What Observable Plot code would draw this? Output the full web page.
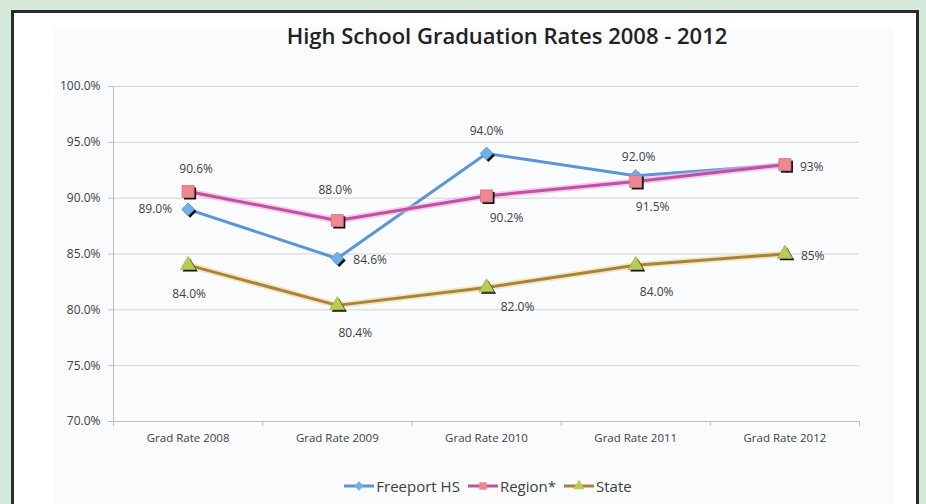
<!DOCTYPE html>
<html><head><meta charset="utf-8">
<script src="https://cdn.jsdelivr.net/npm/d3@7"></script>
<script src="https://cdn.jsdelivr.net/npm/@observablehq/plot@0.6"></script>
<style>
html,body{margin:0;padding:0;}
body{width:926px;height:504px;overflow:hidden;background:#d5eadb;position:relative;font-family:"Open Sans",sans-serif;}
#frame{position:absolute;left:11px;top:10px;width:902px;height:540px;border:3px solid #2b2b2b;background:#fff;}
#inner{position:absolute;left:40px;top:14px;width:840px;height:500px;background:#fafbfd;}
#title{position:absolute;left:0;top:21px;width:1014px;text-align:center;font-size:22px;font-weight:600;line-height:28px;color:#222;}
#chart{position:absolute;left:0;top:60px;}
#legend{position:absolute;left:0;top:475px;width:976px;text-align:center;font-size:15px;color:#404040;line-height:22px;}
#legend span.item{display:inline-flex;align-items:center;margin:0 4px;}
#legend svg{margin-right:2px;}
</style>
</head><body>
<div id="frame"><div id="inner"></div></div>
<div id="title">High School Graduation Rates 2008 - 2012</div>
<div id="chart"></div>
<div id="legend"></div>
<script>
const categories = ["Grad Rate 2008","Grad Rate 2009","Grad Rate 2010","Grad Rate 2011","Grad Rate 2012"];
const seriesNames = ["Freeport HS","Region*","State"];
const freeport = [89.0, 84.6, 94.0, 92.0, 93.0];
const region = [90.6, 88.0, 90.2, 91.5, 93.0];
const state = [84.0, 80.4, 82.0, 84.0, 85.0];
const freeportLabels = ["89.0%","84.6%","94.0%","92.0%",""];
const regionLabels = ["90.6%","88.0%","90.2%","91.5%","93%"];
const stateLabels = ["84.0%","80.4%","82.0%","84.0%","85%"];
const yTicks = [70, 75, 80, 85, 90, 95, 100];

// styling / layout (kept apart from the data)
const styles = [
  {line:"#5b95d5", glow:null, fill:"#6fb0ea", symbol:"diamond2", r:5.8},
  {line:"#c24fa2", glow:"#eab0da", fill:"#ee8790", symbol:"square", r:6.8},
  {line:"#a8843a", glow:"#efd9a0", fill:"#b7cc55", symbol:"triangle", r:5.6}
];
const labelPlacement = [
  [[-16,0,"end"],[16,2,"start"],[0,-22,"middle"],[3,-19,"middle"],null],
  [[8,-22,"middle"],[-2,-30,"middle"],[20,22,"middle"],[17,26,"middle"],[15,2,"start"]],
  [[1,29,"middle"],[18,28,"middle"],[31,20,"middle"],[21,27,"middle"],[16,2,"start"]]
];

const values = [freeport, region, state];
const labels = [freeportLabels, regionLabels, stateLabels];
const rows = [];
seriesNames.forEach((s, k) => values[k].forEach((v, i) => rows.push({series:s, k, i, value:v, label:labels[k][i]})));

const edges = d3.range(categories.length + 1).map(i => i - 0.5);
const marks = [
  Plot.gridY(yTicks, {stroke:"#d3d3d3", strokeOpacity:1}),
  Plot.ruleX([-0.5], {stroke:"#bdbdbd"}),
  Plot.ruleY([70], {stroke:"#bdbdbd"}),
  Plot.axisY(yTicks, {tickSize:5, tickFormat:() => "", stroke:"#bdbdbd", label:null}),
  Plot.axisY(yTicks, {tickSize:0, tickPadding:13, tickFormat:d => d.toFixed(1) + "%", fill:"#404040", fontSize:12, label:null}),
  Plot.axisX(edges, {tickSize:5, tickFormat:() => "", stroke:"#bdbdbd", label:null}),
  Plot.axisX(d3.range(categories.length), {tickSize:0, tickPadding:12, tickFormat:i => categories[i], fill:"#404040", fontSize:11.5, label:null})
];
seriesNames.forEach((s, k) => {
  const d = rows.filter(r => r.k === k);
  if (styles[k].glow) marks.push(Plot.line(d, {x:"i", y:"value", stroke:styles[k].glow, strokeWidth:6.5, strokeOpacity:0.6}));
  marks.push(Plot.line(d, {x:"i", y:"value", stroke:styles[k].line, strokeWidth:3}));
});
seriesNames.forEach((s, k) => {
  const d = rows.filter(r => r.k === k);
  marks.push(Plot.dot(d, {x:"i", y:"value", symbol:styles[k].symbol, r:styles[k].r, fill:"#111", dx:2, dy:2}));
  marks.push(Plot.dot(d, {x:"i", y:"value", symbol:styles[k].symbol, r:styles[k].r, fill:styles[k].fill, stroke:d3.color(styles[k].fill).darker(0.4).formatHex(), strokeWidth:0.8}));
});
rows.forEach(r => {
  const p = labelPlacement[r.k][r.i];
  if (!p || !r.label) return;
  marks.push(Plot.text([r], {x:"i", y:"value", text:"label", dx:p[0], dy:p[1], textAnchor:p[2], fill:"#404040", fontSize:12}));
});

const chart = Plot.plot({
  width: 926, height: 400,
  marginLeft: 113, marginRight: 67, marginTop: 26, marginBottom: 39,
  x: {type:"linear", domain:[-0.5, categories.length - 0.5]},
  y: {domain:[70, 100]},
  style: {background:"transparent", fontFamily:"Open Sans", fontSize:"11.5px", color:"#404040"},
  marks
});
document.getElementById("chart").appendChild(chart);

const legend = document.getElementById("legend");
seriesNames.forEach((s, k) => {
  const item = document.createElement("span");
  item.className = "item";
  const sym = d3.symbol(d3["symbol" + {diamond2:"Diamond2", square:"Square", triangle:"Triangle"}[styles[k].symbol]], Math.PI * 4.2 * 4.2)();
  item.innerHTML = `<svg width="30" height="14" viewBox="0 0 30 14"><line x1="0" x2="30" y1="7" y2="7" stroke="${styles[k].line}" stroke-width="3"/><path transform="translate(15,7)" d="${sym}" fill="${styles[k].fill}"/></svg>`;
  item.appendChild(document.createTextNode(s));
  legend.appendChild(item);
});
</script>
</body></html>
